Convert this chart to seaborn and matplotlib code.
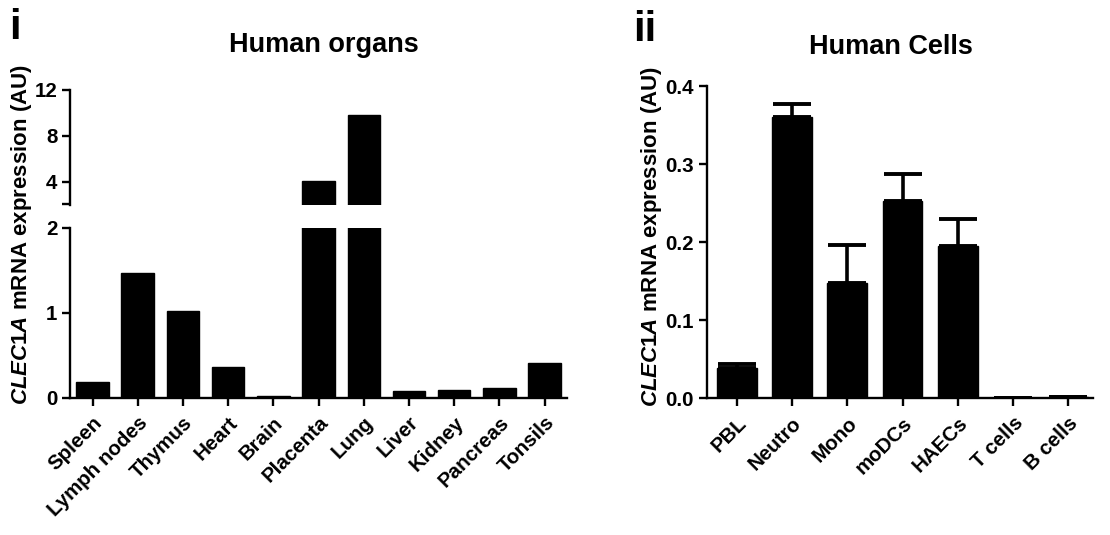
import matplotlib
matplotlib.use("Agg")
import matplotlib.pyplot as plt
import seaborn as sns
import pandas as pd
import numpy as np

# data
organs = ["Spleen", "Lymph nodes", "Thymus", "Heart", "Brain", "Placenta",
          "Lung", "Liver", "Kidney", "Pancreas", "Tonsils"]
organ_expr = [0.19, 1.47, 1.02, 0.36, 0.024, 4.1, 9.8, 0.08, 0.094, 0.11, 0.41]

cells = ["PBL", "Neutro", "Mono", "moDCs", "HAECs", "T cells", "B cells"]
cell_expr = [0.039, 0.360, 0.148, 0.253, 0.195, 0.001, 0.002]
cell_err = [0.005, 0.017, 0.048, 0.034, 0.035, 0.0, 0.0]

sns.set_style("ticks")
plt.rcParams["font.family"] = ["Liberation Sans", "DejaVu Sans"]
plt.rcParams["font.weight"] = "bold"
plt.rcParams["text.color"] = "black"
plt.rcParams["axes.labelcolor"] = "black"
plt.rcParams["mathtext.fontset"] = "custom"
plt.rcParams["mathtext.it"] = "Liberation Sans:italic:bold"
plt.rcParams["mathtext.rm"] = "Liberation Sans:bold"

LW = 1.7
TICK_FS = 14.8
ylab = r"$\it{CLEC1A}$ mRNA expression (AU)"

df_org = pd.DataFrame({"organ": organs, "expr": organ_expr})
df_cell = pd.DataFrame({"cell": cells, "expr": cell_expr, "err": cell_err})

fig = plt.figure(figsize=(11.1, 5.35), dpi=100)

ax_lo = fig.add_axes([0.063, 0.2566, 0.448, 0.3174])
ax_hi = fig.add_axes([0.063, 0.617, 0.448, 0.215])
ax_r = fig.add_axes([0.6367, 0.2555, 0.3483, 0.5835])


def style(ax):
    sns.despine(ax=ax)
    for s in ["left", "bottom"]:
        ax.spines[s].set_linewidth(LW)
        ax.spines[s].set_color("black")
    ax.tick_params(direction="out", length=6, width=LW, colors="black",
                   labelsize=TICK_FS, pad=3)
    ax.tick_params(axis="x", pad=5)
    for lab in ax.get_xticklabels() + ax.get_yticklabels():
        lab.set_fontweight("bold")
        lab.set_color("black")


# broken axis panel
for ax in (ax_lo, ax_hi):
    sns.barplot(data=df_org, x="organ", y="expr", order=organs, color="black",
                saturation=1, width=0.72, ax=ax, edgecolor="black")
    ax.set_xlim(-0.5, 10.5)
    ax.set_xlabel("")
    ax.set_ylabel("")

ax_lo.set_ylim(0, 2)
ax_lo.set_yticks([0, 1, 2])
ax_lo.set_yticklabels(["0", "1", "2"])
ax_lo.set_xticks(range(len(organs)))
ax_lo.set_xticklabels(organs, rotation=45, ha="right", rotation_mode="anchor")
style(ax_lo)

ax_hi.set_ylim(2, 12)
ax_hi.set_yticks([2.1, 4, 8, 12])
ax_hi.set_yticklabels(["", "4", "8", "12"])
ax_hi.set_xticks([])
style(ax_hi)
ax_hi.spines["bottom"].set_visible(False)

# right panel
sns.barplot(data=df_cell, x="cell", y="expr", order=cells, color="black",
            saturation=1, width=0.72, ax=ax_r, edgecolor="black")
ax_r.errorbar(np.arange(len(cells)), df_cell["expr"],
              yerr=[np.zeros(len(cells)), df_cell["err"]],
              fmt="none", ecolor="black", elinewidth=2.6, capsize=14,
              capthick=2.8)
ax_r.set_xlim(-0.54, 6.45)
ax_r.set_ylim(0, 0.4)
ax_r.set_yticks([0.0, 0.1, 0.2, 0.3, 0.4])
ax_r.set_yticklabels(["0.0", "0.1", "0.2", "0.3", "0.4"])
ax_r.set_xticks(range(len(cells)))
ax_r.set_xticklabels(cells, rotation=45, ha="right", rotation_mode="anchor")
ax_r.set_xlabel("")
ax_r.set_ylabel("")
style(ax_r)

# labels and titles
fig.text(0.019, 0.562, ylab, rotation=90, ha="center", va="center",
         fontsize=16, fontweight="bold")
fig.text(0.5865, 0.557, ylab, rotation=90, ha="center", va="center",
         fontsize=16, fontweight="bold")
fig.text(324 / 1110, 1 - 45 / 535, "Human organs", ha="center", va="center",
         fontsize=19.5, fontweight="bold")
fig.text(891 / 1110, 1 - 47 / 535, "Human Cells", ha="center", va="center",
         fontsize=19.5, fontweight="bold")
fig.text(0.008, 1 - 28 / 535, "i", ha="left", va="center", fontsize=30,
         fontweight="bold")
fig.text(633 / 1110, 1 - 30 / 535, "ii", ha="left", va="center", fontsize=30,
         fontweight="bold")

fig.savefig("out.png", dpi=100)
